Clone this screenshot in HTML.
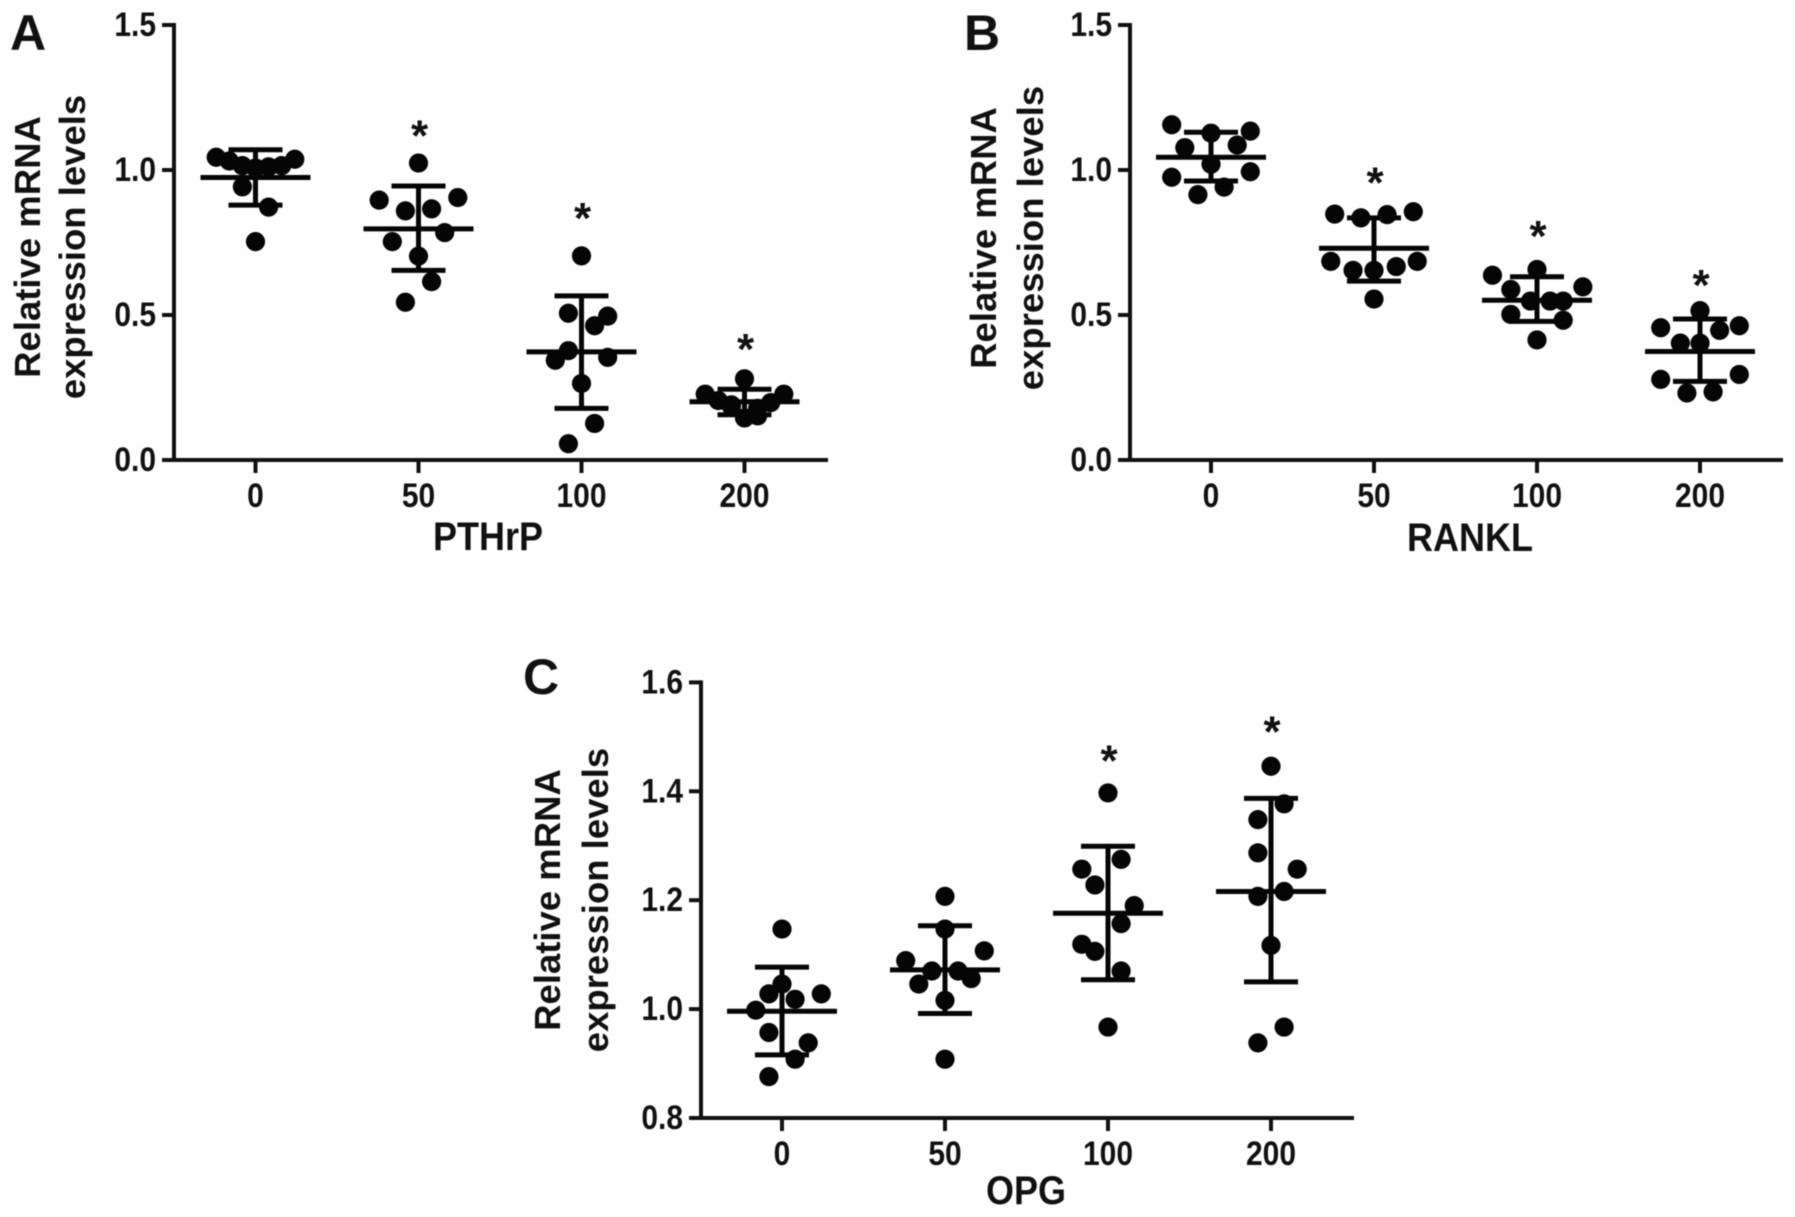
<!DOCTYPE html>
<html lang="en">
<head>
<meta charset="utf-8">
<title>Relative mRNA expression levels</title>
<style>
html,body{margin:0;padding:0;background:#fff;}
svg{display:block;filter:blur(0.6px);}
text{font-family:"Liberation Sans",sans-serif;font-weight:bold;fill:#111;}
</style>
</head>
<body>
<svg id="figure" width="1795" height="1217" viewBox="0 0 1795 1217" xmlns="http://www.w3.org/2000/svg"></svg>
<script>
// Shared data
const doseCategories = ['0', '50', '100', '200'];
const yTitleLines = ['Relative mRNA', 'expression levels'];

// Panel A: PTHrP
const pthrpTicks = [0, 0.5, 1.0, 1.5];
const pthrpValues = [
  [1.044, 1.031, 1.015, 1.007, 1.011, 1.015, 1.037, 0.942, 0.872, 0.753],
  [1.024, 0.896, 0.905, 0.859, 0.866, 0.753, 0.784, 0.703, 0.615, 0.544],
  [0.704, 0.506, 0.496, 0.463, 0.377, 0.344, 0.354, 0.264, 0.126, 0.056],
  [0.280, 0.227, 0.227, 0.205, 0.198, 0.185, 0.178, 0.145, 0.152, 0.190]
];
const pthrpSlots = [
  [-3, -2, -1, 0, 1, 2, 3, -1, 1, 0],
  [0, -3, 3, -1, 1, -2, 2, 0, 1, -1],
  [0, -1, 2, 1, -1, -2, 2, 0, 1, -1],
  [0, -3, 3, -2, 2, -1, 1, 0, 1, -1]
];
const pthrpMeans = [0.974, 0.797, 0.373, 0.201];
const pthrpUpper = [1.070, 0.945, 0.566, 0.244];
const pthrpLower = [0.879, 0.654, 0.178, 0.156];
const pthrpStars = [null, 1.137, 0.852, 0.400];

// Panel B: RANKL
const ranklTicks = [0, 0.5, 1.0, 1.5];
const ranklValues = [
  [1.156, 1.134, 1.127, 1.077, 1.086, 1.020, 0.975, 0.994, 0.941, 0.915],
  [0.848, 0.856, 0.835, 0.846, 0.685, 0.685, 0.654, 0.654, 0.667, 0.555],
  [0.657, 0.637, 0.597, 0.588, 0.548, 0.548, 0.548, 0.502, 0.482, 0.414],
  [0.515, 0.456, 0.463, 0.447, 0.403, 0.403, 0.278, 0.295, 0.231, 0.235]
];
const ranklSlots = [
  [-3, 3, 0, -2, 2, 0, -3, 3, 1, -1],
  [-3, 3, -1, 1, -3.3, 3.3, -1.6, 0, 1.7, 0],
  [0, -3.4, 3.5, -2, -0.5, 1, 2, -2, 2, 0],
  [0, -3, 3, 1.5, -1.5, 0, -3, 3, -1, 1]
];
const ranklMeans = [1.044, 0.730, 0.551, 0.374];
const ranklUpper = [1.130, 0.835, 0.632, 0.486];
const ranklLower = [0.962, 0.617, 0.478, 0.271];
const ranklStars = [null, 0.974, 0.789, 0.621];

// Panel C: OPG
const opgTicks = [0.8, 1.0, 1.2, 1.4, 1.6];
const opgValues = [
  [1.147, 1.046, 1.028, 1.028, 1.018, 0.998, 0.957, 0.938, 0.908, 0.876],
  [1.207, 1.147, 1.107, 1.089, 1.070, 1.070, 1.046, 1.056, 1.016, 0.908],
  [1.397, 1.275, 1.257, 1.228, 1.190, 1.157, 1.119, 1.106, 1.070, 0.967],
  [1.446, 1.377, 1.348, 1.287, 1.257, 1.207, 1.216, 1.117, 0.967, 0.938]
];
const opgSlots = [
  [0, 0, -1, 3, 1, -2, -1, 2, 1, -1],
  [0, 0, 3, -3, -1, 1, -2, 2, 0, 0],
  [0, 1, -2, -1, 2, 1, -2, -1, 1, 0],
  [0, 1, -1, -1, 2, -1, 1, 0, 1, -1]
];
const opgMeans = [0.996, 1.072, 1.176, 1.216];
const opgUpper = [1.077, 1.153, 1.299, 1.387];
const opgLower = [0.916, 0.992, 1.054, 1.050];
const opgStars = [null, null, 1.466, 1.519];

const SVGNS = 'http://www.w3.org/2000/svg';
const figure = document.getElementById('figure');

function node(parent, tag, attrs, content) {
  const el = document.createElementNS(SVGNS, tag);
  Object.keys(attrs).forEach(function (k) { el.setAttribute(k, attrs[k]); });
  if (content !== undefined) el.textContent = content;
  parent.appendChild(el);
  return el;
}

function drawPanel(cfg) {
  const g = node(figure, 'g', {});
  
  

  const yScale = function (v) {
    return cfg.yBottom + (v - cfg.yMin) / (cfg.yMax - cfg.yMin) * (cfg.yTop - cfg.yBottom);
  };
  const xScale = function (i) { return cfg.x0 + i * cfg.step; };
  const slotScale = function (s) { return s * 13.1; };

  const letter = node(g, 'text', { x: cfg.letterX, y: cfg.letterY, 'font-size': 50 }, cfg.letter);
  
  

  const yAxis = node(g, 'line', { x1: cfg.axisX, x2: cfg.axisX, y1: yScale(cfg.yMax) - 2, y2: cfg.yBottom + 2, stroke: '#111', 'stroke-width': 4 });
  
  

  const xAxis = node(g, 'line', { x1: cfg.axisX - 12, x2: cfg.xEnd, y1: cfg.yBottom, y2: cfg.yBottom, stroke: '#111', 'stroke-width': 4 });
  
  

  cfg.ticks.forEach(function (t) {
    const y = yScale(t);
    const mark = node(g, 'line', { x1: cfg.axisX - 12, x2: cfg.axisX, y1: y, y2: y, stroke: '#111', 'stroke-width': 4 });
    
    
    const label = node(g, 'text', {
      'font-size': 30, 'text-anchor': 'end',
      transform: 'translate(' + (cfg.axisX - 18) + ' ' + (y + 11) + ') scale(1 1.15)'
    }, t.toFixed(1));
    
    
  });

  doseCategories.forEach(function (c, i) {
    const x = xScale(i);
    const mark = node(g, 'line', { x1: x, x2: x, y1: cfg.yBottom, y2: cfg.yBottom + 13, stroke: '#111', 'stroke-width': 4 });
    
    
    const label = node(g, 'text', {
      'font-size': 30, 'text-anchor': 'middle',
      transform: 'translate(' + x + ' ' + (cfg.yBottom + 47) + ') scale(1 1.15)'
    }, c);
    
    
  });

  yTitleLines.forEach(function (line, i) {
    const bx = cfg.titleX[i];
    const title = node(g, 'text', {
      x: bx, y: cfg.titleCy, 'font-size': 36.5, 'text-anchor': 'middle',
      transform: 'rotate(-90 ' + bx + ' ' + cfg.titleCy + ')'
    }, line);
    
    
  });

  const xTitle = node(g, 'text', {
    'font-size': 36, 'text-anchor': 'middle',
    transform: 'translate(' + cfg.xTitleX + ' ' + cfg.xTitleY + ') scale(1 1.1)'
  }, cfg.name);
  
  

  doseCategories.forEach(function (c, i) {
    const cx = xScale(i);
    cfg.values[i].forEach(function (v, j) {
      const dot = node(g, 'circle', { cx: cx + slotScale(cfg.slots[i][j]), cy: yScale(v), r: 9.6, fill: '#050505' });
      
      
    });
    const mean = node(g, 'line', { x1: cx - 55, x2: cx + 55, y1: yScale(cfg.means[i]), y2: yScale(cfg.means[i]), stroke: '#050505', 'stroke-width': 5 });
    
    
    const stem = node(g, 'line', { x1: cx, x2: cx, y1: yScale(cfg.upper[i]), y2: yScale(cfg.lower[i]), stroke: '#050505', 'stroke-width': 5 });
    
    
    [cfg.upper[i], cfg.lower[i]].forEach(function (e) {
      const cap = node(g, 'line', { x1: cx - 27, x2: cx + 27, y1: yScale(e), y2: yScale(e), stroke: '#050505', 'stroke-width': 5 });
      
      
    });
    if (cfg.stars[i] !== null) {
      const star = node(g, 'text', { x: cx + 1, y: yScale(cfg.stars[i]) + 20, 'font-size': 44, 'text-anchor': 'middle' }, '*');
      
      
    }
  });
}

drawPanel({
  id: 'pthrp', name: 'PTHrP', letter: 'A', letterX: 10, letterY: 50,
  axisX: 174, xEnd: 828, x0: 255.5, step: 163, yTop: 25, yBottom: 460, yMin: 0, yMax: 1.5,
  titleX: [40, 85], titleCy: 247, xTitleX: 488, xTitleY: 550,
  ticks: pthrpTicks, values: pthrpValues, slots: pthrpSlots, means: pthrpMeans,
  upper: pthrpUpper, lower: pthrpLower, stars: pthrpStars
});
drawPanel({
  id: 'rankl', name: 'RANKL', letter: 'B', letterX: 964, letterY: 50,
  axisX: 1130, xEnd: 1783, x0: 1211, step: 163, yTop: 25, yBottom: 460, yMin: 0, yMax: 1.5,
  titleX: [996, 1043], titleCy: 238, xTitleX: 1470, xTitleY: 551,
  ticks: ranklTicks, values: ranklValues, slots: ranklSlots, means: ranklMeans,
  upper: ranklUpper, lower: ranklLower, stars: ranklStars
});
drawPanel({
  id: 'opg', name: 'OPG', letter: 'C', letterX: 523, letterY: 694,
  axisX: 701, xEnd: 1354, x0: 782, step: 163, yTop: 682.4, yBottom: 1118, yMin: 0.8, yMax: 1.6,
  titleX: [560, 608], titleCy: 900, xTitleX: 1026, xTitleY: 1204,
  ticks: opgTicks, values: opgValues, slots: opgSlots, means: opgMeans,
  upper: opgUpper, lower: opgLower, stars: opgStars
});
</script>
</body>
</html>
